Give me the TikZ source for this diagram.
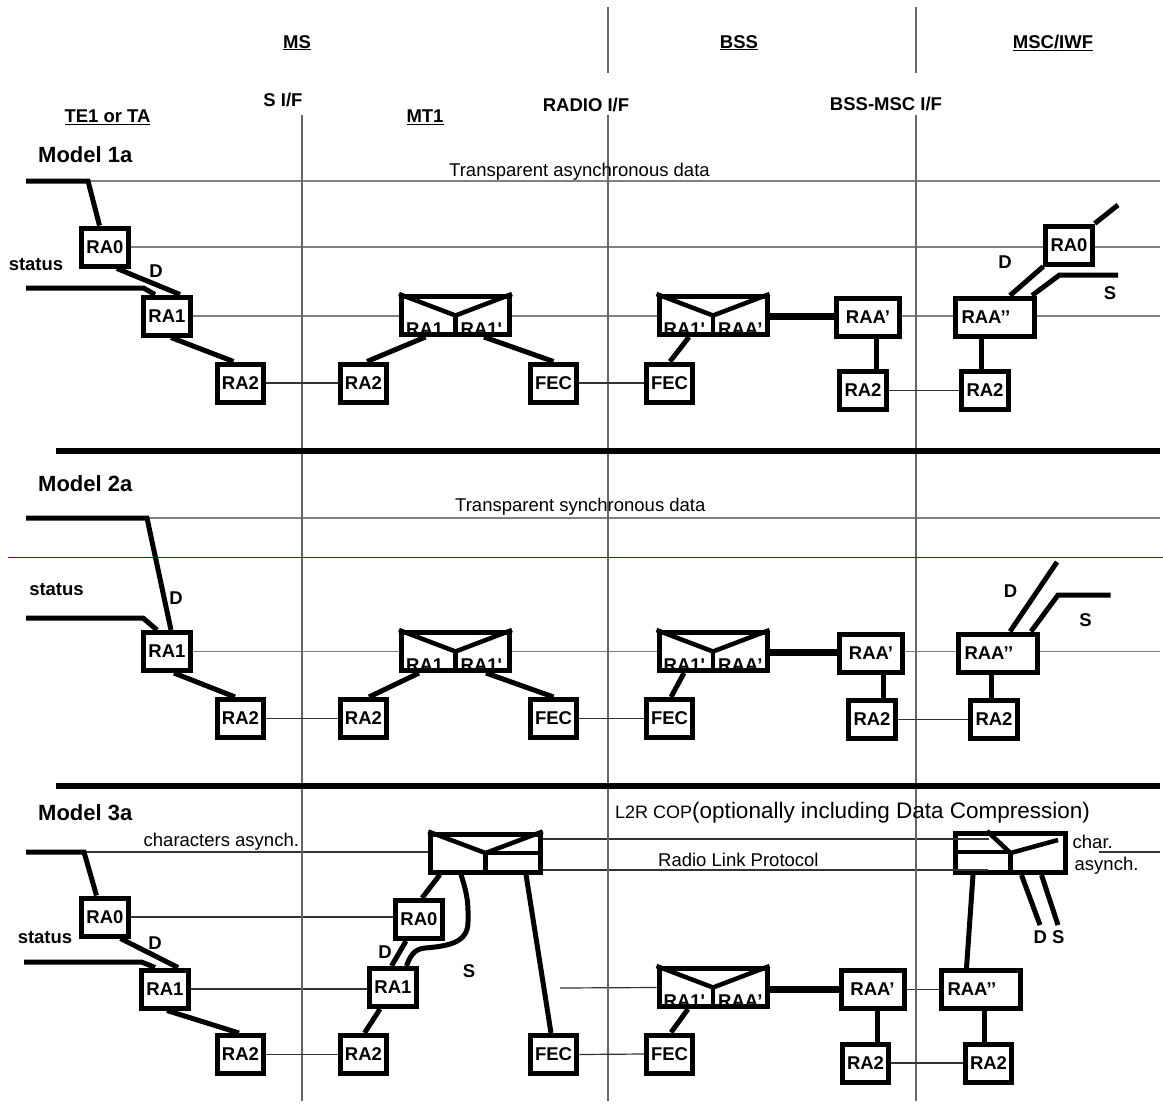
\documentclass[tikz,border=0pt]{standalone}
\usepackage{fontspec}
\setmainfont{Liberation Sans}
\usetikzlibrary{positioning, backgrounds, calc}

\begin{document}
\begin{tikzpicture}[x=1pt, y=-1pt,
        box/.style={draw, line width=5pt, fill=white, inner sep=0pt,
            minimum width=46.5pt, minimum height=38pt,
            font=\bfseries\fontsize{18.5}{20}\selectfont},
        raabox/.style={box, minimum width=63pt},
        widebox/.style={box, text width=67pt, inner xsep=6pt, align=left},
        splitbox/.style={box, minimum width=108pt},
        l2rbox/.style={box, minimum width=109.5pt, minimum height=38pt},
        boxtext/.style={inner sep=0pt, anchor=base west,
            font=\bfseries\fontsize{18.5}{20}\selectfont},
        tag/.style={inner sep=0pt, font=\bfseries\fontsize{18.5}{20}\selectfont},
        txt/.style={inner sep=0pt, anchor=west, font=\fontsize{18.5}{20}\selectfont},
        modeltag/.style={inner sep=0pt, anchor=west,
            font=\bfseries\fontsize{22}{24}\selectfont},
        link/.style={line width=5pt},
        trunk/.style={line width=6.5pt},
        divline/.style={line width=4.5pt},
        wire/.style={line width=1.2pt, color=black!80},
        dataline/.style={line width=1.5pt, color=black!50},
        ifline/.style={line width=1.2pt, color=black!60},
        sepline/.style={line width=5.5pt},
    ]
    \newcommand{\splitpair}[4]{%
        \node[splitbox] (#1) at (#2) {};
        \draw[divline] (#1.north west) -- (#1.center) -- (#1.north east);
        \draw[divline] (#1.center) -- (#1.south);
        \node[boxtext] at ([xshift=7pt,yshift=2pt]#1.south west) {#3};
        \node[boxtext] at ([xshift=5pt,yshift=2pt]#1.south) {#4};
    }
    \useasboundingbox (0,0) rectangle (1163,1104);
    \coordinate (rim) at (1160,0);

        % Interfaces
        \draw[ifline] (608,7) -- (608,73) (916,7) -- (916,73);
        \draw[ifline] (302,115) -- (302,1101) (608,115) -- (608,1101) (916,115) -- (916,1101);

        % Headings
        \node[tag, anchor=base] (ms) at (297,48) {\underline{MS}};
        \node[tag, anchor=base] (bss) at (739,48) {\underline{BSS}};
        \node[tag, anchor=base] (msc) at (1053,48) {\underline{MSC/IWF}};
        \node[tag, anchor=base] (sif) at (283,106) {S I/F};
        \node[tag, anchor=base] (rif) at (586,111) {RADIO I/F};
        \node[tag, anchor=base] (bif) at (886,110) {BSS-MSC I/F};
        \node[tag, anchor=base] (te) at (107.5,122.5) {\underline{TE1 or TA}};
        \node[tag, anchor=base] (mt) at (425,122.5) {\underline{MT1}};

        % Model 1a
        \node[modeltag] (m1) at (38,155) {Model 1a};
        \node[txt] (tad) at (449,172) {Transparent asynchronous data};
        \node[box] (te1ra0) at (105,247) {RA0};
        \node[box] (te1ra1) at (167,316) {RA1};
        \node[box] (te1ra2) at (240.5,383) {RA2};
        \node[box] (mt1ra2) at (363.5,383) {RA2};
        \splitpair{mt1dbl}{455.5,315.5}{RA1}{RA1\textquotesingle}
        \node[box] (mt1fec) at (553.5,383) {FEC};
        \node[box] (bs1fec) at (669.5,383) {FEC};
        \splitpair{bs1dbl}{713,315.5}{RA1\textquotesingle}{RAA’}
        \node[raabox] (bs1raa) at (868,317) {RAA’};
        \node[box] (bs1ra2) at (863,390.5) {RA2};
        \node[widebox] (ms1raa) at (995,317) {RAA’’};
        \node[box] (ms1ra2) at (985,390.5) {RA2};
        \node[box] (ms1ra0) at (1069,245) {RA0};
        \node[tag] at (36,265) {status};
        \node[tag] at (156,271) {D};
        \node[tag] at (1005,262) {D};
        \node[tag] at (1110,293) {S};

        \coordinate (te1in) at (26,181);
        \coordinate (te1bend) at (88,181);
        \coordinate (te1st) at (26,288);
        \coordinate (te1stb) at (143.5,288);
        \coordinate (ms1s) at (1059.5,275);
        \coordinate (ms1send) at (1118,275);
        \coordinate (ms1out) at (1118,205);
        \draw[link] (te1in) -- (te1bend) -- ([xshift=-5.5pt]te1ra0.north);
        \draw[link] (te1st) -- (te1stb) -- ([xshift=-12pt]te1ra1.north);
        \draw[link] ([xshift=12pt]te1ra0.south) -- ([xshift=13pt]te1ra1.north);
        \draw[link] ([xshift=4pt]te1ra1.south) -- ([xshift=-7pt]te1ra2.north);
        \draw[wire] (te1ra2.east) -- (mt1ra2.west);
        \draw[link] ([xshift=-30pt]mt1dbl.south) -- ([xshift=3.5pt]mt1ra2.north);
        \draw[link] ([xshift=28.5pt]mt1dbl.south) -- (mt1fec.north);
        \draw[wire] (mt1fec.east) -- (bs1fec.west);
        \draw[link] ([xshift=-24pt]bs1dbl.south) -- ([xshift=0.5pt]bs1fec.north);
        \draw[trunk] ([yshift=-1pt]bs1dbl.east) -- ([yshift=-1pt]bs1dbl.east -| bs1raa.west);
        \draw[link] ([xshift=8pt]bs1raa.south) -- ([xshift=8pt]bs1raa.south |- bs1ra2.north);
        \draw[wire] (bs1ra2.east) -- (ms1ra2.west);
        \draw[link] ([xshift=-13.5pt]ms1raa.south) -- ([xshift=-13.5pt]ms1raa.south |- ms1ra2.north);
        \draw[link] ([xshift=15pt]ms1raa.north) -- (ms1ra0.south west);
        \draw[link] ([xshift=37pt]ms1raa.north) -- (ms1s) -- (ms1send);
        \draw[link] (ms1ra0.north east) -- (ms1out);
        \begin{scope}[on background layer]
            \draw[dataline] (te1bend) -- (te1bend -| rim);
            \draw[dataline] (te1ra0.east) -- (te1ra0.east -| rim);
            \draw[dataline] (te1ra1.east) -- (te1ra1.east -| rim);
        \end{scope}

        \draw[sepline] (56,451) -- (1160,451);

        % Model 2a
        \node[modeltag] (m2) at (38,484) {Model 2a};
        \node[txt] (tsd) at (455,507) {Transparent synchronous data};
        \draw[line width=1.6pt, color={rgb,255:red,139;green,0;blue,0}] (8,557.5) -- (1163,557.5);
        \node[box] (te2ra1) at (167,651.5) {RA1};
        \node[box] (te2ra2) at (240.5,718.5) {RA2};
        \node[box] (mt2ra2) at (363.5,718.5) {RA2};
        \splitpair{mt2dbl}{455.5,651.5}{RA1}{RA1\textquotesingle}
        \node[box] (mt2fec) at (553.5,718.5) {FEC};
        \node[box] (bs2fec) at (669.5,718.5) {FEC};
        \splitpair{bs2dbl}{713,651.5}{RA1\textquotesingle}{RAA’}
        \node[raabox] (bs2raa) at (871,653) {RAA’};
        \node[box] (bs2ra2) at (872,719.5) {RA2};
        \node[widebox] (ms2raa) at (998,653) {RAA’’};
        \node[box] (ms2ra2) at (994,719.5) {RA2};
        \node[tag] at (56.5,590) {status};
        \node[tag] at (176,598) {D};
        \node[tag] at (1010.5,591) {D};
        \node[tag] at (1085.5,620) {S};

        \coordinate (te2in) at (26,518);
        \coordinate (te2bend) at (147,518);
        \coordinate (te2st) at (26,618);
        \coordinate (te2stb) at (143,618);
        \coordinate (ms2d) at (1057,562);
        \coordinate (ms2s) at (1058,595);
        \coordinate (ms2send) at (1110.5,595);
        \draw[link] (te2in) -- (te2bend) -- ([xshift=4pt]te2ra1.north);
        \draw[link] (te2st) -- (te2stb) -- ([xshift=-10pt]te2ra1.north);
        \draw[link] ([xshift=7pt]te2ra1.south) -- ([xshift=-5.5pt]te2ra2.north);
        \draw[wire] (te2ra2.east) -- (mt2ra2.west);
        \draw[link] ([xshift=-36.5pt]mt2dbl.south) -- ([xshift=5.5pt]mt2ra2.north);
        \draw[link] ([xshift=30.5pt]mt2dbl.south) -- (mt2fec.north);
        \draw[wire] (mt2fec.east) -- (bs2fec.west);
        \draw[link] ([xshift=-29pt]bs2dbl.south) -- ([xshift=1.5pt]bs2fec.north);
        \draw[trunk] ([yshift=-1pt]bs2dbl.east) -- ([yshift=-1pt]bs2dbl.east -| bs2raa.west);
        \draw[link] ([xshift=12pt]bs2raa.south) -- ([xshift=12pt]bs2raa.south |- bs2ra2.north);
        \draw[wire] (bs2ra2.east) -- (ms2ra2.west);
        \draw[link] ([xshift=-7pt]ms2raa.south) -- ([xshift=-7pt]ms2raa.south |- ms2ra2.north);
        \draw[link] ([xshift=12pt]ms2raa.north) -- (ms2d);
        \draw[link] ([xshift=33pt]ms2raa.north) -- (ms2s) -- (ms2send);
        \begin{scope}[on background layer]
            \draw[dataline] (te2bend) -- (te2bend -| rim);
            \draw[dataline] (te2ra1.east) -- (te2ra1.east -| rim);
        \end{scope}

        \draw[sepline] (56,786) -- (1160,786);

        % Model 3a
        \node[modeltag] (m3) at (38,813) {Model 3a};
        \node[txt] (cha) at (143.5,842) {characters asynch.};
        \node[txt] (l2r) at (615,813) {\fontsize{18}{20}\selectfont L2R COP\fontsize{22.5}{24}\selectfont(optionally including Data Compression)};
        \node[txt] (rlp) at (658,860) {Radio Link Protocol};
        \node[txt] (chr) at (1072.5,842) {char.};
        \node[txt] (asy) at (1074.5,866) {asynch.};
        \node[box] (te3ra0) at (105,917) {RA0};
        \node[box] (te3ra1) at (165,989) {RA1};
        \node[box] (te3ra2) at (240.5,1054.5) {RA2};
        \node[box] (mt3ra2) at (363.5,1054.5) {RA2};
        \node[box] (mt3ra1) at (393,987.5) {RA1};
        \node[box] (mt3ra0) at (419,919.5) {RA0};
        \node[box] (mt3fec) at (553.5,1054.5) {FEC};
        \node[l2rbox] (mt3l2r) at (485.5,853) {};
        \draw[divline] (mt3l2r.north west) -- (mt3l2r.center) -- (mt3l2r.north east);
        \draw[divline] (mt3l2r.center) -- (mt3l2r.east);
        \draw[divline] (mt3l2r.center) -- (mt3l2r.south);
        \node[box] (bs3fec) at (669.5,1054) {FEC};
        \splitpair{bs3dbl}{713,987.5}{RA1\textquotesingle}{RAA’}
        \node[raabox] (bs3raa) at (872.5,989.5) {RAA’};
        \node[box] (bs3ra2) at (865.5,1063) {RA2};
        \node[widebox] (ms3raa) at (981,989.5) {RAA’’};
        \node[box] (ms3ra2) at (988.5,1063) {RA2};
        \node[l2rbox, minimum height=39pt] (ms3l2r) at (1010.5,853) {};
        \draw[divline] ([xshift=-23.5pt]ms3l2r.north) -- (ms3l2r.center)
            -- ([xshift=47.5pt,yshift=13pt]ms3l2r.center);
        \draw[divline] ([yshift=1pt]ms3l2r.west) -- ([yshift=1pt]ms3l2r.center);
        \draw[divline] (ms3l2r.center) -- (ms3l2r.south);
        \node[tag] at (45,938) {status};
        \node[tag] at (155,943) {D};
        \node[tag] at (385,952) {D};
        \node[tag] at (469,971) {S};
        \node[tag] at (1049,937) {D S};

        \coordinate (te3in) at (26,852);
        \coordinate (te3bend) at (84,852);
        \coordinate (te3st) at (24,962);
        \coordinate (te3stb) at (141.5,962);
        \coordinate (bs3in) at (560,988);
        \coordinate (chrl) at (1099,852);
        \coordinate (ms3d) at (1040,925);
        \coordinate (ms3s) at (1058,925);
        \coordinate (l2rtop) at ([yshift=14pt]mt3l2r.east);
        \coordinate (l2rbot) at ([yshift=-17pt]mt3l2r.east);
        \draw[link] (te3in) -- (te3bend) -- ([xshift=-8.5pt]te3ra0.north);
        \draw[link] (te3st) -- (te3stb) -- ([xshift=-10pt]te3ra1.north);
        \draw[link] ([xshift=15.5pt]te3ra0.south) -- ([xshift=13pt]te3ra1.north);
        \draw[link] ([xshift=2pt]te3ra1.south) -- ([xshift=-1.5pt]te3ra2.north);
        \draw[wire] (te3ra2.east) -- (mt3ra2.west);
        \draw[link] ([xshift=-13pt]mt3ra1.south) -- ([xshift=1pt]mt3ra2.north);
        \draw[link] ([xshift=-1.5pt]mt3ra1.north) -- ([xshift=-13pt]mt3ra0.south);
        \draw[link] ([xshift=-45.5pt]mt3l2r.south) -- ([xshift=3pt]mt3ra0.north);
        \draw[link] ([xshift=-24.5pt]mt3l2r.south) .. controls +(8,25) and +(0,-15) .. (468,922)
            .. controls +(0,20) and +(25,-2) .. (425,948)
            .. controls +(-12,1) and +(3,-8) .. ([xshift=13.5pt]mt3ra1.north);
        \draw[link] ([xshift=40.5pt]mt3l2r.south) -- ([xshift=-2.5pt]mt3fec.north);
        \draw[wire] (mt3fec.east) -- (bs3fec.west);
        \draw[link] ([xshift=-25pt]bs3dbl.south) -- ([xshift=1.5pt]bs3fec.north);
        \draw[trunk] ([yshift=-2pt]bs3dbl.east) -- ([yshift=-2pt]bs3dbl.east -| bs3raa.west);
        \draw[link] ([xshift=4.5pt]bs3raa.south) -- ([xshift=4.5pt]bs3raa.south |- bs3ra2.north);
        \draw[wire] (bs3ra2.east) -- (ms3ra2.west);
        \draw[link] ([xshift=3.5pt]ms3raa.south) -- ([xshift=3.5pt]ms3raa.south |- ms3ra2.north);
        \draw[link] ([xshift=-37.5pt]ms3l2r.south) -- ([xshift=-14.5pt]ms3raa.north);
        \draw[link] ([xshift=11pt]ms3l2r.south) -- (ms3d);
        \draw[link] ([xshift=31pt]ms3l2r.south) -- (ms3s);
        \draw[wire] ([yshift=14pt]ms3l2r.west) -- ++(36,0);
        \draw[wire] ([yshift=-17pt]ms3l2r.west) -- ++(35,0);
        \begin{scope}[on background layer]
            \draw[wire] (te3bend) -- (te3bend -| mt3l2r.west);
            \draw[wire] (te3ra0.east) -- (te3ra0.east -| mt3ra0.west);
            \draw[wire] (te3ra1.east) -- (te3ra1.east -| mt3ra1.west);
            \draw[wire] (l2rtop) -- (l2rtop -| ms3l2r.west);
            \draw[wire] (l2rbot) -- (l2rbot -| ms3l2r.west);
            \draw[wire] (bs3in) -- (bs3dbl.west);
            \draw[wire] (bs3raa.east) -- (ms3raa.west);
            \draw[wire] (chrl) -- (chrl -| rim);
        \end{scope}

    \end{tikzpicture}
\end{document}
